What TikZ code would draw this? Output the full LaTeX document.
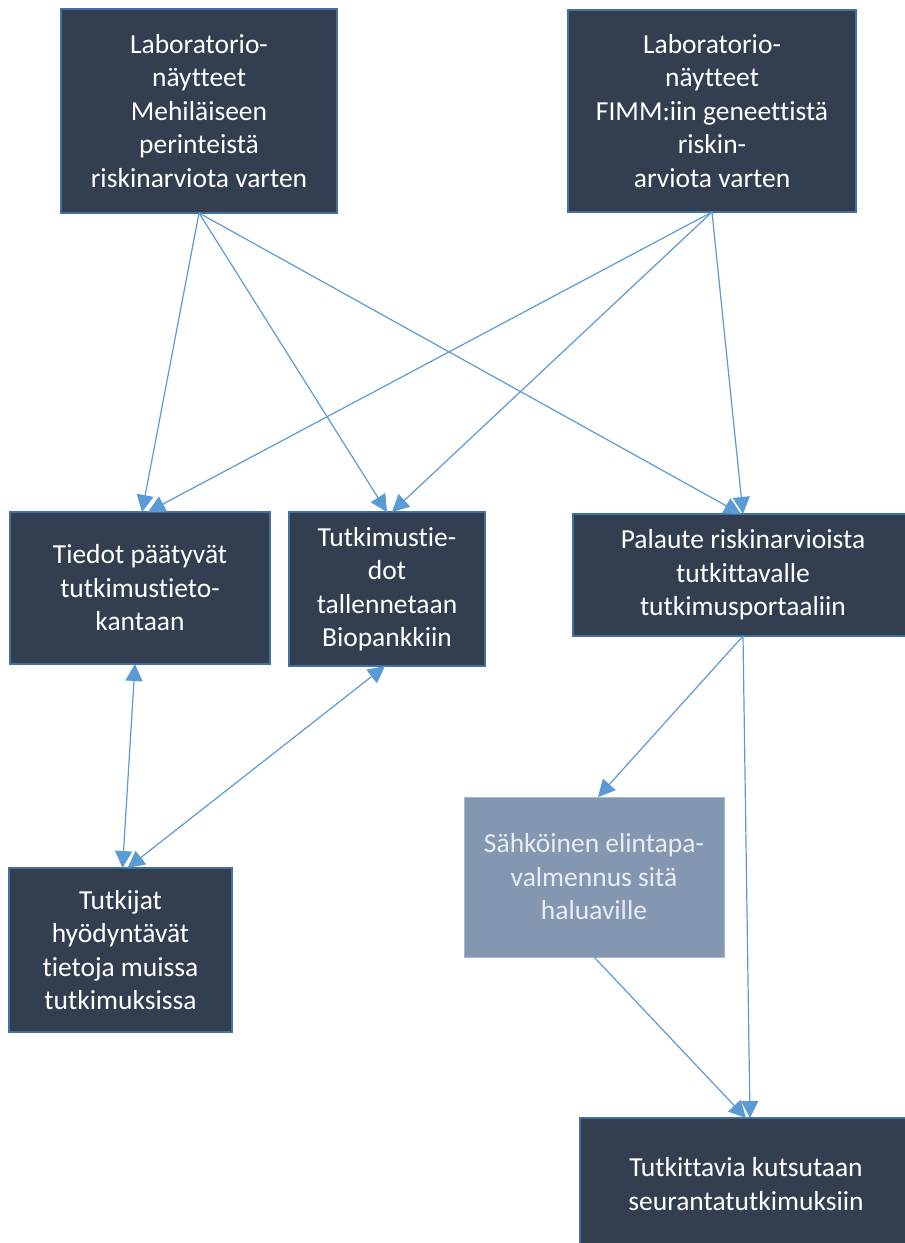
\documentclass[tikz,border=0pt]{standalone}
\usepackage{fontspec}
\setmainfont{Carlito}[Ligatures=NoCommon]
\usetikzlibrary{arrows.meta}
\definecolor{boxfill}{HTML}{333F50}
\definecolor{boxline}{HTML}{41719C}
\definecolor{lightfill}{HTML}{8497B0}
\definecolor{lightline}{HTML}{A9B7CB}
\definecolor{lighttext}{HTML}{E9EDF3}
\definecolor{arrowcol}{HTML}{5B9BD5}
\tikzset{
  box/.style={draw=boxline, line width=2pt, fill=boxfill, text=white, align=center,
    inner sep=0pt, outer sep=0pt, font=\fontsize{27.5}{33.5}\selectfont},
  lightbox/.style={box, draw=lightline, line width=1pt, fill=lightfill, text=lighttext},
  tipA/.tip={Triangle[length=17pt,width=17pt]},
  conn/.style={draw=arrowcol, line width=1.2pt, -tipA},
  dconn/.style={draw=arrowcol, line width=1.2pt, tipA-tipA}
}
\begin{document}
\begin{tikzpicture}[x=1pt,y=-1pt]
\useasboundingbox (0,0) rectangle (905,1243);
\clip (0,0) rectangle (905,1243);
\fill[white] (0,0) rectangle (905,1243);
\node[box, minimum width=276pt, minimum height=204pt] (A) at (199,111)
  {Laboratorio-\\näytteet\\Mehiläiseen\\perinteistä\\riskinarviota varten};
\node[box, minimum width=288pt, minimum height=202pt] (B) at (712,111)
  {Laboratorio-\\näytteet\\FIMM:iin geneettistä\\riskin-\\arviota varten};
\node[box, minimum width=260pt, minimum height=152pt] (C) at (140,588)
  {Tiedot päätyvät\\tutkimustieto-\\kantaan};
\node[box, minimum width=196pt, minimum height=154pt] (D) at (387,589)
  {Tutkimustie-\\dot\\tallennetaan\\Biopankkiin};
\node[box, minimum width=340pt, minimum height=122pt] (E) at (743,575)
  {Palaute riskinarvioista\\tutkittavalle\\tutkimusportaaliin};
\node[box, minimum width=223pt, minimum height=164pt] (F) at (120.5,950)
  {Tutkijat\\hyödyntävät\\tietoja muissa\\tutkimuksissa};
\node[lightbox, minimum width=260pt, minimum height=160pt] (G) at (594,877)
  {Sähköinen elintapa-\\valmennus sitä\\haluaville};
\node[box, minimum width=332pt, minimum height=132pt] (H) at (746,1184)
  {Tutkittavia kutsutaan\\seurantatutkimuksiin};
\draw[conn] (A.south) -- ([xshift=2pt]C.north);
\draw[conn] (A.south) -- (D.north);
\draw[conn] (A.south) -- ([xshift=-2pt]E.north);
\draw[conn] (B.south) -- ([xshift=8pt]C.north);
\draw[conn] (B.south) -- ([xshift=5pt]D.north);
\draw[conn] (B.south) -- (E.north);
\draw[dconn] ([xshift=-5pt]C.south) -- ([xshift=2pt]F.north);
\draw[dconn] ([xshift=-2pt]D.south) -- ([xshift=7pt]F.north);
\draw[conn] (E.south) -- ([xshift=4pt]G.north);
\draw[conn] (E.south) -- ([xshift=4pt]H.north);
\draw[conn] (G.south) -- (H.north);
\end{tikzpicture}
\end{document}
